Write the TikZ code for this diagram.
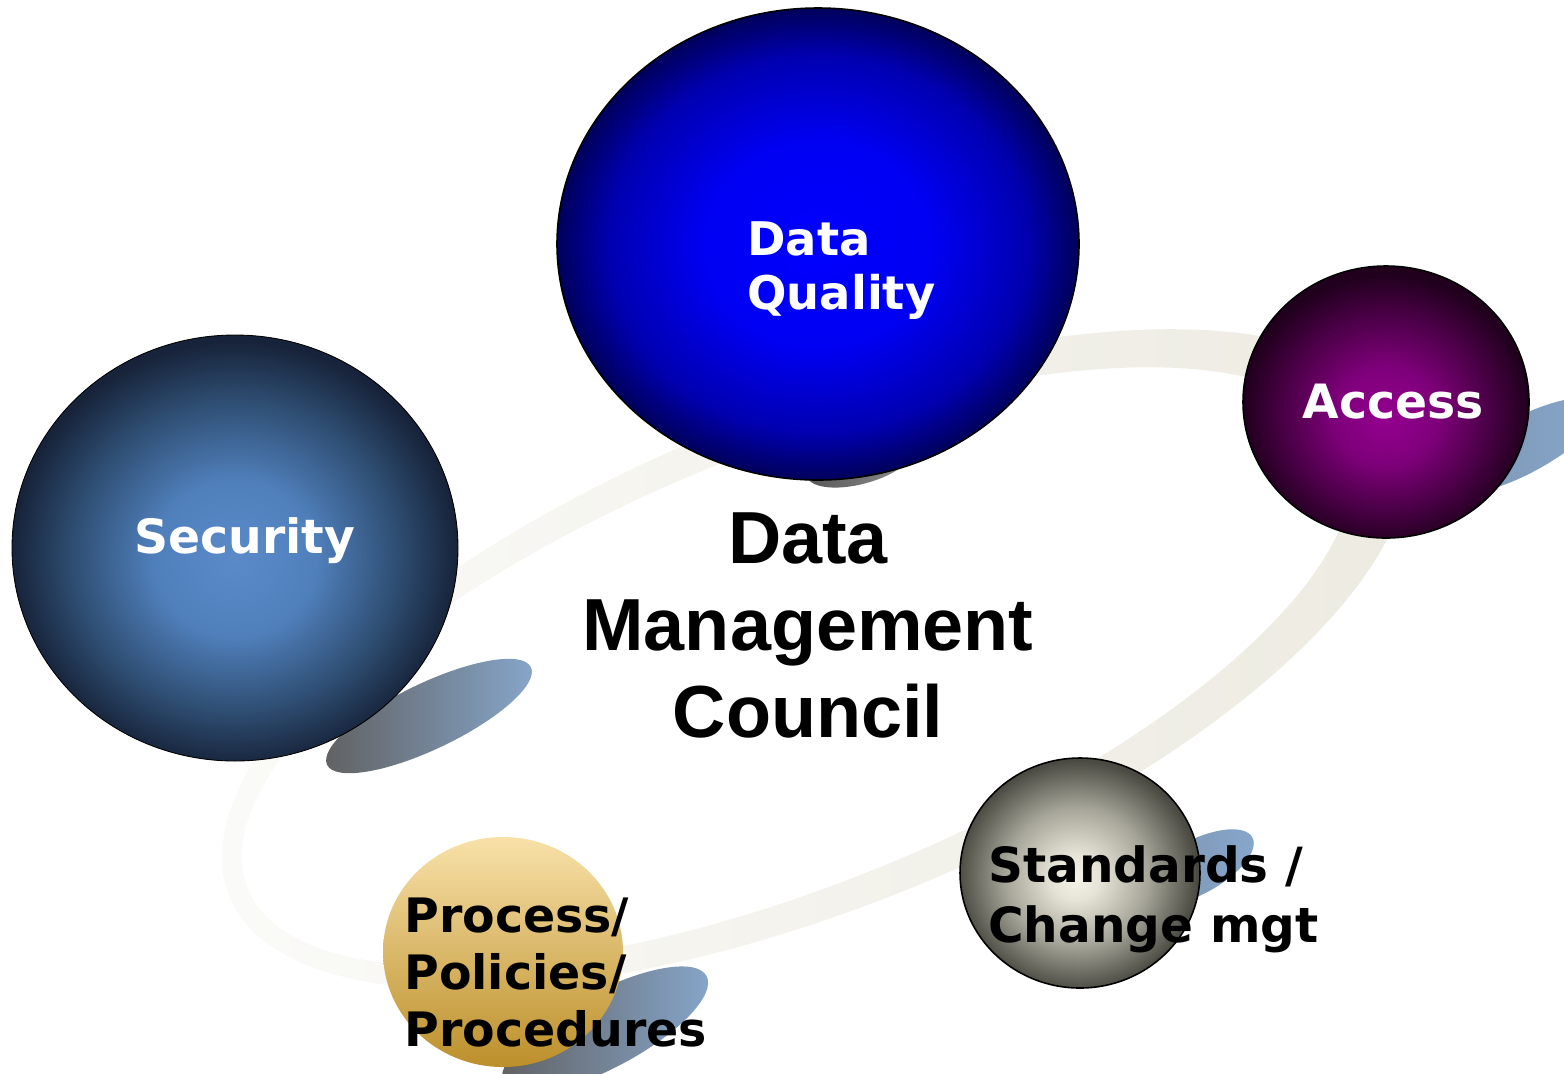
\documentclass[tikz,border=0pt]{standalone}
\usepackage{fontspec}
\setmainfont{DejaVu Sans}
\newfontfamily\arialfont{Liberation Sans}
\definecolor{ringL}{HTML}{FBFBF9}
\definecolor{ringM}{HTML}{F3F2EC}
\definecolor{ringR}{HTML}{ECEAE0}
\definecolor{shGray}{HTML}{606060}
\definecolor{shBlue}{HTML}{87A7CC}
\definecolor{dqA}{HTML}{0000FF}
\definecolor{dqB}{HTML}{0000F2}
\definecolor{dqC}{HTML}{0000B0}
\definecolor{dqD}{HTML}{00005A}
\definecolor{secA}{HTML}{5A8AC8}
\definecolor{secB}{HTML}{5080BC}
\definecolor{secC}{HTML}{2F4F74}
\definecolor{secD}{HTML}{17233A}
\definecolor{accA}{HTML}{94008F}
\definecolor{accB}{HTML}{7E007A}
\definecolor{accC}{HTML}{4A0046}
\definecolor{accD}{HTML}{20001D}
\definecolor{stdA}{HTML}{F5F3E8}
\definecolor{stdB}{HTML}{E6E4D6}
\definecolor{stdC}{HTML}{A5A498}
\definecolor{stdD}{HTML}{4A4A42}
\definecolor{procTop}{HTML}{F8E1A9}
\definecolor{procBot}{HTML}{BC8F2A}
\pgfdeclareradialshading{dqShade}{\pgfpoint{0bp}{0bp}}{color(0bp)=(dqA); color(11bp)=(dqB); color(20bp)=(dqC); color(25bp)=(dqD); color(50bp)=(dqD)}
\pgfdeclareradialshading{secShade}{\pgfpoint{0bp}{-1.5bp}}{color(0bp)=(secA); color(9bp)=(secB); color(18bp)=(secC); color(25bp)=(secD); color(50bp)=(secD)}
\pgfdeclareradialshading{accShade}{\pgfpoint{0bp}{-3bp}}{color(0bp)=(accA); color(9bp)=(accB); color(18bp)=(accC); color(25bp)=(accD); color(50bp)=(accD)}
\pgfdeclareradialshading{stdShade}{\pgfpoint{-1bp}{-1bp}}{color(0bp)=(stdA); color(5bp)=(stdB); color(15bp)=(stdC); color(25bp)=(stdD); color(50bp)=(stdD)}
\tikzset{
  blob/.style={left color=shGray, right color=shBlue},
  sphereline/.style={draw=black, line width=0.9pt},
  vlabel/.style={inner sep=0pt, font=\fontsize{26.9pt}{31.2pt}\selectfont\bfseries},
}
\begin{document}
\begin{tikzpicture}[x=0.02cm, y=-0.02cm]
\path[use as bounding box] (0,0) rectangle (1564,1073);
\clip (0,0) rectangle (1564,1073);
% ring
\shade[even odd rule, left color=ringL, middle color=ringM, right color=ringR, rotate around={22:(806,663)}]
  (816,663) ellipse [x radius=632, y radius=248]
  (796,663) ellipse [x radius=592, y radius=217];
% shadows
\shade[blob, rotate around={25.6:(429,716)}] (429,716) ellipse [x radius=113, y radius=33];
\shade[left color=shBlue!75!shGray, right color=shBlue, rotate around={28:(1522,446)}] (1522,446) ellipse [x radius=88, y radius=28];
\shade[left color=shBlue!70!shGray, right color=shBlue, rotate around={28:(1195,868)}] (1195,868) ellipse [x radius=65, y radius=27];
\shade[blob, rotate around={28:(605,1030)}] (605,1030) ellipse [x radius=115, y radius=38];
\shade[left color=shGray!90!black, right color=shGray!70!white, rotate around={15:(860,462)}] (860,462) ellipse [x radius=55, y radius=22];
% spheres
\shadedraw[shading=dqShade, sphereline] (818,244) ellipse [x radius=261, y radius=236];
\shadedraw[shading=secShade, sphereline, line width=0.5pt] (235,548) ellipse [x radius=223, y radius=213];
\shadedraw[shading=accShade, sphereline] (1386,402) ellipse [x radius=143, y radius=136];
\shadedraw[shading=stdShade, sphereline] (1080,873) ellipse [x radius=120, y radius=115];
\shade[top color=procTop, bottom color=procBot] (503,952) ellipse [x radius=120, y radius=115];
% labels
\node[vlabel, text=white, anchor=base west, font=\fontsize{26.4pt}{31.2pt}\selectfont\bfseries] (dqtext) at (747,255) {\begin{tabular}[t]{@{}l@{}}Data\\Quality\end{tabular}};
\node[vlabel, text=white, anchor=base] (sectext) at (245,553) {Security};
\node[vlabel, text=white, anchor=base] (acctext) at (1393,418) {Access};
\node[vlabel, text=black, anchor=base west, font=\fontsize{27.6pt}{34.6pt}\selectfont\bfseries] (stdtext) at (988,882) {\begin{tabular}[t]{@{}l@{}}Standards /\\Change mgt\end{tabular}};
\node[vlabel, text=black, anchor=base west, font=\fontsize{27pt}{32.6pt}\selectfont\bfseries] (proctext) at (404,932) {\begin{tabular}[t]{@{}l@{}}Process/\\Policies/\\Procedures\end{tabular}};
\node[inner sep=0pt, anchor=base, font=\arialfont\fontsize{42pt}{49.6pt}\selectfont\bfseries] (dmctext) at (808,563) {\begin{tabular}[t]{@{}c@{}}Data\\Management\\Council\end{tabular}};
\end{tikzpicture}
\end{document}
